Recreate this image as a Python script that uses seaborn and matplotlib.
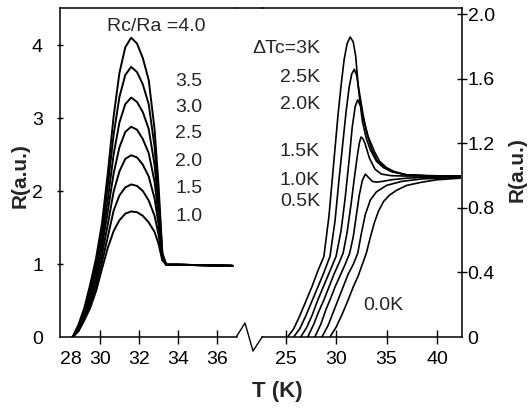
import matplotlib
matplotlib.use("Agg")
import matplotlib.pyplot as plt
import seaborn as sns
import pandas as pd
from matplotlib.lines import Line2D

# ---------------- data: left panel (Rc/Ra family) ----------------
left_T = [28.6, 28.9, 29.2, 29.5, 29.8, 30.1, 30.4, 30.7, 31.0, 31.3, 31.6,
          31.9, 32.2, 32.5, 32.8, 33.0, 33.2, 33.4, 34.0, 35.0, 36.0, 36.8]
ratio_labels = ["4.0", "3.5", "3.0", "2.5", "2.0", "1.5", "1.0"]
r_40 = [0, 0.17, 0.40, 0.72, 1.08, 1.55, 2.24, 3.02, 3.62, 3.97, 4.10,
        4.02, 3.82, 3.52, 2.85, 2.10, 1.15, 0.99, 0.99, 0.985, 0.98, 0.975]
r_35 = [0, 0.15, 0.37, 0.67, 1.00, 1.44, 2.07, 2.77, 3.29, 3.59, 3.70,
        3.63, 3.46, 3.19, 2.61, 1.96, 1.13, 0.99, 0.99, 0.985, 0.98, 0.975]
r_30 = [0, 0.14, 0.34, 0.61, 0.93, 1.34, 1.88, 2.50, 2.94, 3.19, 3.28,
        3.22, 3.08, 2.85, 2.36, 1.82, 1.12, 0.99, 0.99, 0.985, 0.98, 0.975]
r_25 = [0, 0.12, 0.31, 0.56, 0.85, 1.23, 1.72, 2.24, 2.60, 2.81, 2.88,
        2.84, 2.71, 2.52, 2.13, 1.68, 1.10, 0.99, 0.99, 0.985, 0.98, 0.975]
r_20 = [0, 0.11, 0.29, 0.50, 0.78, 1.12, 1.54, 1.99, 2.27, 2.44, 2.49,
        2.46, 2.36, 2.20, 1.90, 1.55, 1.08, 0.99, 0.99, 0.985, 0.98, 0.975]
r_15 = [0, 0.09, 0.26, 0.45, 0.70, 1.02, 1.37, 1.73, 1.94, 2.05, 2.09,
        2.07, 2.00, 1.87, 1.66, 1.41, 1.07, 0.99, 0.99, 0.985, 0.98, 0.975]
r_10 = [0, 0.08, 0.23, 0.40, 0.63, 0.93, 1.22, 1.45, 1.60, 1.69, 1.72,
        1.71, 1.66, 1.57, 1.44, 1.28, 1.05, 0.99, 0.99, 0.985, 0.98, 0.975]
left_text_y = [4.25, 3.50, 3.14, 2.79, 2.41, 2.04, 1.65]

# ---------------- data: right panel (delta Tc family) ----------------
dtc_labels = ["\u0394Tc=3K", "2.5K", "2.0K", "1.5K", "1.0K", "0.5K", "0.0K"]
t_3K = [25.2, 25.8, 26.4, 27.0, 27.6, 28.2, 28.8, 29.3, 29.8, 30.2, 30.5, 30.8,
        31.1, 31.4, 31.7, 31.95, 32.2, 32.6, 33.0, 33.4, 34.0, 34.7, 35.5,
        37.0, 39.0, 42.3]
v_3K = [0, 0.05, 0.13, 0.22, 0.31, 0.41, 0.50, 0.75, 1.10, 1.38, 1.56, 1.72,
        1.82, 1.86, 1.83, 1.74, 1.55, 1.34, 1.23, 1.16, 1.09, 1.05, 1.025,
        1.005, 1.0, 0.998]
t_25K = [25.8, 26.4, 27.0, 27.6, 28.2, 28.8, 29.4, 29.9, 30.3, 30.7, 31.0,
         31.3, 31.55, 31.81, 32.05, 32.3, 32.7, 33.1, 33.55, 34.1, 34.8, 35.6,
         37.0, 39.0, 42.3]
v_25K = [0, 0.05, 0.13, 0.22, 0.31, 0.40, 0.50, 0.72, 0.98, 1.22, 1.40,
         1.55, 1.63, 1.66, 1.62, 1.52, 1.37, 1.25, 1.16, 1.09, 1.05, 1.025,
         1.005, 1.0, 0.998]
t_20K = [26.5, 27.1, 27.6, 28.2, 28.8, 29.4, 30.0, 30.5, 30.9, 31.3, 31.6,
         31.9, 32.14, 32.45, 32.8, 33.2, 33.8, 34.3, 35.0, 35.8, 37.0, 39.0,
         42.3]
v_20K = [0, 0.06, 0.13, 0.23, 0.32, 0.41, 0.50, 0.66, 0.86, 1.10, 1.30,
         1.43, 1.47, 1.43, 1.33, 1.24, 1.15, 1.09, 1.05, 1.025, 1.005, 1.0,
         0.998]
t_15K = [27.2, 27.8, 28.3, 28.8, 29.3, 29.8, 30.3, 30.7, 31.1, 31.5, 31.8,
         32.1, 32.3, 32.47, 32.65, 32.87, 33.3, 33.86, 34.5, 35.5, 37.0, 39.0,
         42.3]
v_15K = [0, 0.08, 0.16, 0.23, 0.31, 0.39, 0.46, 0.52, 0.65, 0.83, 0.98,
         1.12, 1.20, 1.24, 1.23, 1.20, 1.11, 1.04, 1.01, 1.0, 0.998, 0.998,
         0.998]
t_10K = [27.9, 28.5, 29.0, 29.4, 29.9, 30.4, 30.9, 31.35, 31.7, 32.0, 32.3,
         32.6, 32.9, 33.2, 33.6, 34.0, 34.6, 35.5, 37.0, 39.0, 42.3]
v_10K = [0, 0.08, 0.17, 0.23, 0.31, 0.38, 0.45, 0.52, 0.62, 0.75, 0.88,
         0.97, 1.01, 0.99, 0.965, 0.96, 0.965, 0.975, 0.985, 0.99, 0.995]
t_05K = [28.6, 29.2, 29.7, 30.2, 30.7, 31.2, 31.7, 32.15, 32.5, 32.9, 33.4,
         34.0, 35.0, 36.5, 38.5, 42.3]
v_05K = [0, 0.07, 0.15, 0.23, 0.31, 0.39, 0.45, 0.52, 0.64, 0.76, 0.85,
         0.90, 0.94, 0.965, 0.98, 0.99]
t_00K = [29.4, 30.0, 30.6, 31.2, 31.7, 32.2, 32.6, 33.0, 33.4, 33.8, 34.2,
         34.7, 35.3, 36.0, 37.0, 38.5, 40.0, 42.3]
v_00K = [0, 0.06, 0.14, 0.23, 0.31, 0.38, 0.45, 0.52, 0.62, 0.71, 0.78,
         0.84, 0.88, 0.91, 0.94, 0.96, 0.975, 0.985]
right_text_T = [28.42, 28.42, 28.42, 28.42, 28.42, 28.42, 32.67]
right_text_y = [1.79, 1.61, 1.44, 1.15, 0.97, 0.84, 0.195]

left_xticks = [28.51, 30, 32, 34, 36]
left_xticklabels = ["28", "30", "32", "34", "36"]
left_yticks = [0, 1, 2, 3, 4]
right_xticks = [25, 30, 35, 40]
right_yticks = [0, 0.4, 0.8, 1.2, 1.6, 2.0]
right_yticklabels = ["0", "0.4", "0.8", "1.2", "1.6", "2.0"]

# ---------------- tables ----------------
left_rows = []
for lab, vals in zip(ratio_labels, [r_40, r_35, r_30, r_25, r_20, r_15, r_10]):
    for t, r in zip(left_T, vals):
        left_rows.append({"T": t, "R": r, "curve": lab})
df_left = pd.DataFrame(left_rows)

right_rows = []
for lab, ts, vs in zip(dtc_labels,
                       [t_3K, t_25K, t_20K, t_15K, t_10K, t_05K, t_00K],
                       [v_3K, v_25K, v_20K, v_15K, v_10K, v_05K, v_00K]):
    for t, r in zip(ts, vs):
        right_rows.append({"T": t, "R": r, "curve": lab})
df_right = pd.DataFrame(right_rows)

# ---------------- figure ----------------
sns.set_theme(style="white")
plt.rcParams['font.family'] = ['Liberation Sans', 'DejaVu Sans']
plt.rcParams['axes.linewidth'] = 1.1
plt.rcParams['axes.edgecolor'] = 'black'

W, H = 528, 409
fig = plt.figure(figsize=(W / 100, H / 100), dpi=100)
fig.patch.set_facecolor('white')


def fx(px):
    return px / W


def fy(py):
    return 1 - py / H


ax1 = fig.add_axes([fx(60), fy(337), (237 - 60) / W, (337 - 8) / H])
ax2 = fig.add_axes([fx(262), fy(337), (462 - 262) / W, (337 - 8) / H])

sns.lineplot(data=df_left, x="T", y="R", units="curve", estimator=None,
             sort=False, color="black", lw=1.4, ax=ax1, legend=False)
sns.lineplot(data=df_right, x="T", y="R", units="curve", estimator=None,
             sort=False, color="black", lw=1.2, ax=ax2, legend=False)

FS = 14
# left axes
ax1.set_xlim(27.95, 37.03)
ax1.set_ylim(0, 4.507)
ax1.set_xticks(left_xticks)
ax1.set_xticklabels(left_xticklabels)
ax1.set_yticks(left_yticks)
ax1.set_yticklabels([str(v) for v in left_yticks])
ax1.tick_params(axis='x', direction='inout', length=9.5, width=1.0, pad=5,
                labelsize=FS, colors='black', bottom=True)
ax1.tick_params(axis='y', direction='inout', length=4.5, width=1.0, pad=10,
                labelsize=FS, colors='black', left=True)
ax1.xaxis.get_major_ticks()[0].tick1line.set_visible(False)
ax1.yaxis.get_major_ticks()[0].tick1line.set_visible(False)
ax1.spines['right'].set_visible(False)
ax1.set_xlabel("")
ax1.set_ylabel("")

# right axes
ax2.set_xlim(22.67, 42.47)
ax2.set_ylim(0, 2.04)
ax2.set_xticks(right_xticks)
ax2.set_xticklabels([str(v) for v in right_xticks])
ax2.set_yticks(right_yticks)
ax2.set_yticklabels(right_yticklabels)
ax2.yaxis.tick_right()
ax2.tick_params(axis='x', direction='inout', length=9.5, width=1.0, pad=5,
                labelsize=FS, colors='black', bottom=True)
ax2.tick_params(axis='y', direction='inout', length=7, width=1.0, pad=0.5,
                labelsize=FS, colors='black', right=True, left=False)
ax2.yaxis.get_major_ticks()[0].tick2line.set_visible(False)
ax2.spines['left'].set_visible(False)
ax2.set_xlabel("")
ax2.set_ylabel("")

for ax in (ax1, ax2):
    ax.set_facecolor('white')
    ax.grid(False)

# axis titles
fig.text(fx(20), fy(176), "R(a.u.)", rotation=90, ha='center', va='center',
         fontsize=15, fontweight='bold')
fig.text(fx(517), fy(170), "R(a.u.)", rotation=90, ha='center', va='center',
         fontsize=15, fontweight='bold')
fig.text(fx(277.5), fy(392), "T (K)", ha='center', va='center',
         fontsize=16, fontweight='bold')

# annotations
ax1.text(32.9, left_text_y[0], "Rc/Ra =4.0", ha='center', va='center', fontsize=FS)
for lab, yv in zip(ratio_labels[1:], left_text_y[1:]):
    ax1.text(33.85, yv, lab, ha='left', va='center', fontsize=FS)

for lab, tv, yv in zip(dtc_labels[:-1], right_text_T[:-1], right_text_y[:-1]):
    ax2.text(tv, yv, lab, ha='right', va='center', fontsize=FS, clip_on=False)
ax2.text(right_text_T[-1], right_text_y[-1], dtc_labels[-1], ha='left',
         va='center', fontsize=FS)

# broken axis: top line across the gap and the zigzag on the bottom
fig.add_artist(Line2D([fx(236.5), fx(262.5)], [fy(8), fy(8)], color='black',
                      lw=1.1, transform=fig.transFigure))
fig.add_artist(Line2D([fx(236.5), fx(245), fx(253), fx(262.5)],
                      [fy(336.5), fy(323), fy(351), fy(336.5)], color='black',
                      lw=1.0, transform=fig.transFigure))

fig.savefig("out.png", dpi=100, facecolor='white')
